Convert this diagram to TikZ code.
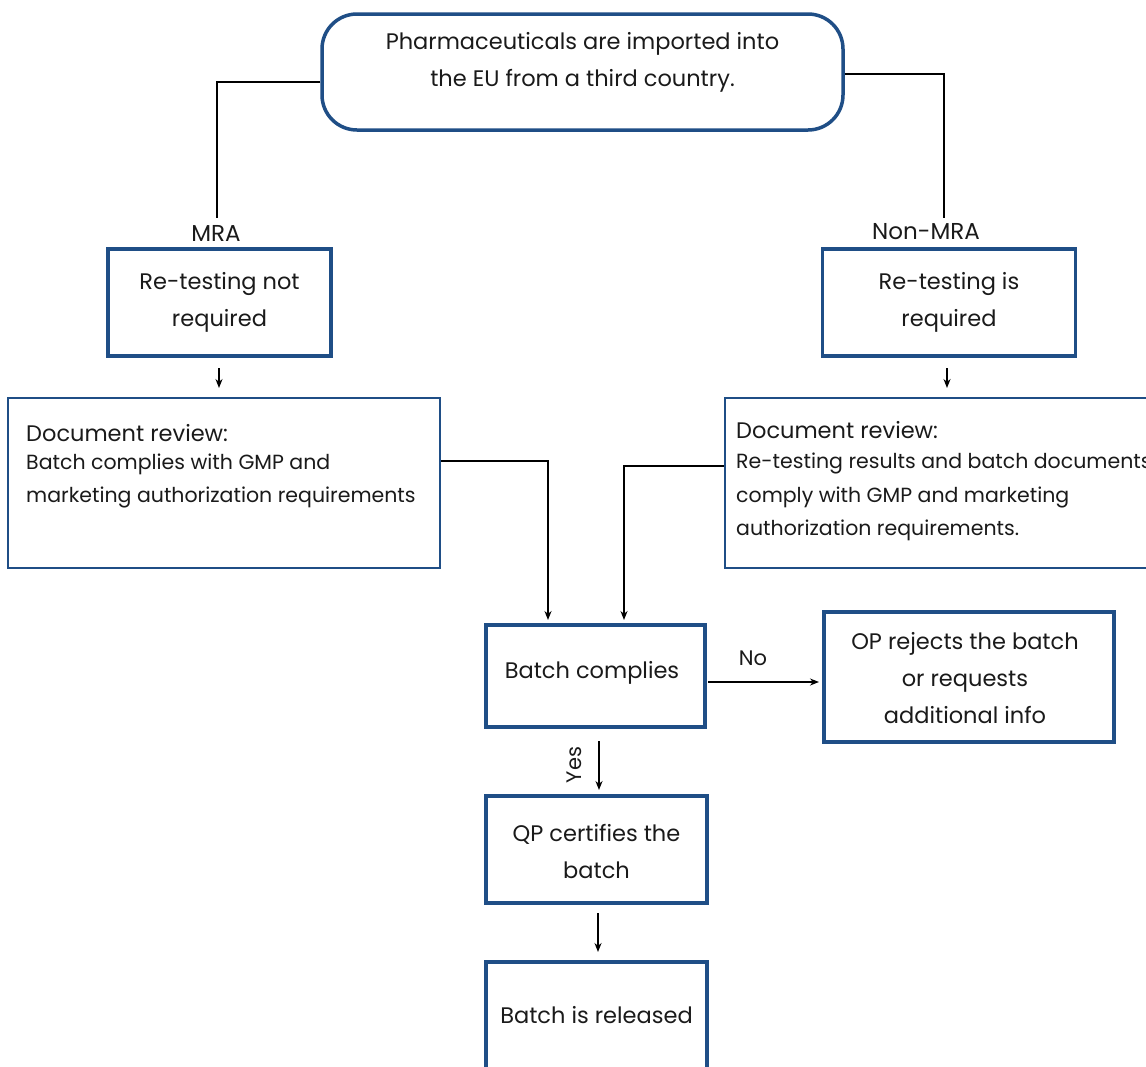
\documentclass[tikz,border=0pt]{standalone}
\usepackage{fontspec}
\setmainfont{Poppins}
\usetikzlibrary{arrows.meta}
\definecolor{boxblue}{HTML}{1F4E86}
\definecolor{ink}{HTML}{1A1A1A}
\tikzset{
  x=1pt, y=-1pt,
  box/.style={draw=boxblue, line width=3.5pt, fill=white, inner sep=0pt},
  docbox/.style={draw=boxblue, line width=2.5pt, fill=white, inner sep=0pt},
  txt/.style={align=center, inner sep=0pt, text=ink, font=\fontsize{22.5}{37}\selectfont},
  doctxt/.style={align=left, anchor=west, inner sep=0pt, text=ink, font=\fontsize{20.5}{32.5}\selectfont},
  dochead/.style={doctxt, font=\fontsize{22.5}{33}\selectfont},
  conn/.style={draw=black, line width=1.8pt},
  arr/.style={draw=black, line width=1.4pt, -{Stealth[length=9pt,width=7pt]}},
  lab/.style={font=\fontsize{23}{26}\selectfont, text=ink, inner sep=0pt}
}
\begin{document}
\begin{tikzpicture}
\useasboundingbox (0,0) rectangle (1146,1066);
\fill[white] (0,0) rectangle (1146,1066);
\begin{scope}
\clip (0,0) rectangle (1146,1066);
\node[box, rounded corners=35pt, minimum width=521pt, minimum height=116pt] (top) at (582.5,72) {};
\node[txt] (toptxt) at (582.5,62) {Pharmaceuticals are imported into\\the EU from a third country.};

\node[box, minimum width=223pt, minimum height=107pt] (mra) at (219.5,302.5) {};
\node[txt] (mratxt) at (219.5,302.5) {Re-testing not\\required};
\node[box, minimum width=253pt, minimum height=107pt] (nonmra) at (949,302.5) {};
\node[txt] (nonmratxt) at (949,302.5) {Re-testing is\\required};

\node[docbox, minimum width=432pt, minimum height=170pt] (ldoc) at (224,483) {};
\node[dochead] (ldoch) at (26,433) {Document review:};
\node[doctxt] (ldoct) at (26,481) {Batch complies with GMP and\\marketing authorization requirements};

\node[docbox, minimum width=435pt, minimum height=170pt] (rdoc) at (942.5,483) {};
\node[dochead] (rdoch) at (736,430) {Document review:};
\node[doctxt, font=\fontsize{20.5}{33.5}\selectfont] (rdoct) at (736,497) {Re-testing results and batch documents\\comply with GMP and marketing\\authorization requirements.};

\node[box, minimum width=219pt, minimum height=102pt] (batch) at (595.5,676) {};
\node[txt] (batchtxt) at (592,673) {Batch complies};
\node[box, minimum width=290pt, minimum height=130pt] (op) at (969,677) {};
\node[txt] (optxt) at (965,678) {OP rejects the batch\\or requests\\additional info};
\node[box, minimum width=221pt, minimum height=107pt] (qp) at (596.5,849.5) {};
\node[txt] (qptxt) at (596.5,851) {QP certifies the\\batch};
\node[box, minimum width=221pt, minimum height=112pt] (rel) at (596.5,1018) {};
\node[txt] (reltxt) at (596.5,1015) {Batch is released};

\node[lab] (mralab) at (216,233) {MRA};
\node[lab] (nonmralab) at (926,232) {Non-MRA};
\coordinate (le) at (217,218);
\coordinate (re) at (944,218);
\draw[conn] (top.west |- 0,82) -| (le);
\draw[conn] (top.east |- 0,74) -| (re);

% named connector ends
\coordinate (a1s) at (219,368);  \coordinate (a1e) at (219,388);
\coordinate (a2s) at (947,368);  \coordinate (a2e) at (947,388);
\coordinate (lin) at (548,620);  \coordinate (rin) at (624,620);
\coordinate (nos) at (708,682);  \coordinate (noe) at (819,682);
\coordinate (yss) at (599,741);  \coordinate (yse) at (599,790);
\coordinate (rls) at (598,913);  \coordinate (rle) at (598,952);

\draw[arr] (a1s) -- (a1e);
\draw[arr] (a2s) -- (a2e);
\draw[arr, line width=1.8pt] (ldoc.east |- 0,461) -| (lin);
\draw[arr, line width=1.8pt] (rdoc.west |- 0,466) -| (rin);
\draw[arr] (nos) -- (noe);
\node[lab, font=\fontsize{21}{24}\selectfont] (nolab) at (753,658) {No};
\draw[arr] (yss) -- (yse);
\node[lab, font=\fontsize{21}{24}\selectfont, rotate=90] (yeslab) at (574,765) {Yes};
\draw[arr] (rls) -- (rle);
\end{scope}
\end{tikzpicture}
\end{document}
